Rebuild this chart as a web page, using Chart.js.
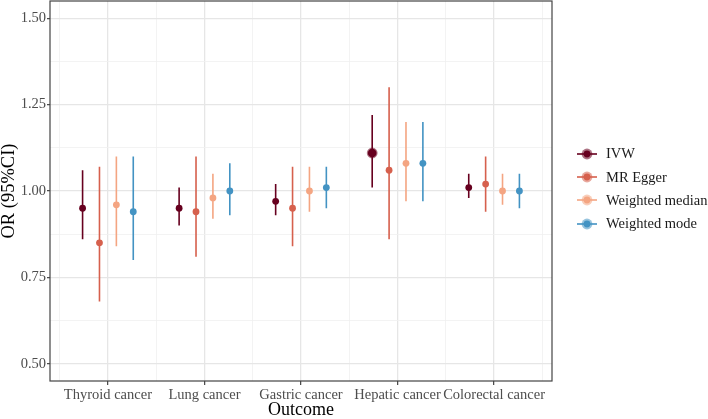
<!DOCTYPE html>
<html>
<head>
<meta charset="utf-8">
<script src="https://cdn.jsdelivr.net/npm/chart.js@4.4.1/dist/chart.umd.min.js"></script>
<style>
    html, body { margin: 0; padding: 0; background: #ffffff; }
    #wrap { position: relative; width: 708px; height: 419px; }
    #legend {
        position: absolute; left: 576px; top: 142px;
        font-family: "Liberation Serif", "Times New Roman", serif;
        font-size: 14.5px; color: #1a1a1a;
    }
    .item { display: flex; align-items: center; height: 23.4px; }
    .item canvas { width: 22px; height: 14px; margin-right: 8px; }
</style>
</head>
<body>
<div id="wrap">
    <canvas id="orChart" width="708" height="419"></canvas>
    <div id="legend"></div>
</div>
<script>
// Categorias e métodos
const categories = ['Thyroid cancer', 'Lung cancer', 'Gastric cancer', 'Hepatic cancer', 'Colorectal cancer'];
const methods = ['IVW', 'MR Egger', 'Weighted median', 'Weighted mode'];
const colors = ['#67001F', '#D6604D', '#F4A582', '#4393C3'];

// OR e IC 95% por método
const ivwOR = [0.95, 0.95, 0.97, 1.11, 1.01];
const ivwLow = [0.86, 0.90, 0.93, 1.01, 0.98];
const ivwHigh = [1.06, 1.01, 1.02, 1.22, 1.05];

const eggerOR = [0.85, 0.94, 0.95, 1.06, 1.02];
const eggerLow = [0.68, 0.81, 0.84, 0.86, 0.94];
const eggerHigh = [1.07, 1.10, 1.07, 1.30, 1.10];

const medianOR = [0.96, 0.98, 1.00, 1.08, 1.00];
const medianLow = [0.84, 0.92, 0.94, 0.97, 0.96];
const medianHigh = [1.10, 1.05, 1.07, 1.20, 1.05];

const modeOR = [0.94, 1.00, 1.01, 1.08, 1.00];
const modeLow = [0.80, 0.93, 0.95, 0.97, 0.95];
const modeHigh = [1.10, 1.08, 1.07, 1.20, 1.05];

// Ticks do eixo Y
const yMajorTicks = [0.50, 0.75, 1.00, 1.25, 1.50];
const yMinorTicks = [0.625, 0.875, 1.125, 1.375];

const seriesOR = [ivwOR, eggerOR, medianOR, modeOR];
const seriesLow = [ivwLow, eggerLow, medianLow, modeLow];
const seriesHigh = [ivwHigh, eggerHigh, medianHigh, modeHigh];

const dodge = [-0.2625, -0.0875, 0.0875, 0.2625];
const FONT = '"Liberation Serif", "Times New Roman", serif';

function isMinor(v) {
    return Math.abs(v * 4 - Math.round(v * 4)) > 1e-6;
}

// Montar datasets: linhas dos intervalos + pontos
const datasets = [];
methods.forEach((m, i) => {
    const segs = [];
    categories.forEach((c, j) => {
        const x = j + 1 + dodge[i];
        segs.push({ x: x, y: seriesLow[i][j] });
        segs.push({ x: x, y: seriesHigh[i][j] });
        segs.push({ x: x, y: null });
    });
    datasets.push({
        label: m + ' CI',
        data: segs,
        showLine: true,
        spanGaps: false,
        borderColor: colors[i],
        borderWidth: 1.6,
        pointRadius: 0,
        order: 2
    });
});
methods.forEach((m, i) => {
    const pts = categories.map((c, j) => ({ x: j + 1 + dodge[i], y: seriesOR[i][j] }));
    datasets.push({
        label: m,
        data: pts,
        backgroundColor: colors[i],
        // IVW de Hepatic cancer destacado com ponto maior
        pointRadius: ctx => (i === 0 && ctx.dataIndex === 3) ? 4.3 : 3.4,
        pointBorderWidth: ctx => (i === 0 && ctx.dataIndex === 3) ? 2.2 : 0,
        pointBorderColor: 'rgba(103, 0, 31, 0.55)',
        order: 1
    });
});

// Borda do painel
const panelBorder = {
    id: 'panelBorder',
    afterDatasetsDraw(chart) {
        const a = chart.chartArea;
        const ctx = chart.ctx;
        ctx.save();
        ctx.strokeStyle = '#444444';
        ctx.lineWidth = 1.2;
        ctx.strokeRect(a.left, a.top, a.right - a.left, a.bottom - a.top);
        ctx.restore();
    }
};

new Chart(document.getElementById('orChart'), {
    type: 'scatter',
    data: { datasets: datasets },
    plugins: [panelBorder],
    options: {
        responsive: false,
        animation: false,
        devicePixelRatio: 1,
        layout: { autoPadding: false, padding: { top: 1, right: 156, left: 0, bottom: 0 } },
        plugins: {
            legend: { display: false },
            tooltip: { enabled: false }
        },
        scales: {
            x: {
                type: 'linear',
                min: 0.4,
                max: 5.6,
                afterFit: s => {
                    s.height = 38;
                    s.paddingLeft = 0;
                    s.paddingRight = 0;
                },
                afterBuildTicks: s => {
                    s.ticks = [0.5, 1, 1.5, 2, 2.5, 3, 3.5, 4, 4.5, 5, 5.5].map(v => ({ value: v }));
                },
                border: { display: false },
                grid: {
                    color: ctx => Number.isInteger(ctx.tick.value) ? '#E6E6E6' : '#F0F0F0',
                    lineWidth: ctx => Number.isInteger(ctx.tick.value) ? 1.3 : 0.8,
                    tickColor: ctx => Number.isInteger(ctx.tick.value) ? '#444444' : 'rgba(0,0,0,0)',
                    tickLength: 4,
                    tickWidth: 1.2
                },
                ticks: {
                    autoSkip: false,
                    maxRotation: 0,
                    padding: 1,
                    color: '#4D4D4D',
                    font: { family: FONT, size: 14.5 },
                    callback: v => Number.isInteger(v) ? categories[v - 1] : ''
                },
                title: {
                    display: true,
                    text: 'Outcome',
                    color: '#000000',
                    font: { family: FONT, size: 18, lineHeight: 1 },
                    padding: { top: 0, bottom: 0 }
                }
            },
            y: {
                type: 'linear',
                min: 0.45,
                max: 1.55,
                afterFit: s => {
                    s.width = 50;
                    s.paddingTop = 0;
                    s.paddingBottom = 0;
                },
                afterBuildTicks: s => {
                    s.ticks = yMajorTicks.concat(yMinorTicks).sort((a, b) => a - b).map(v => ({ value: v }));
                },
                border: { display: false },
                grid: {
                    color: ctx => isMinor(ctx.tick.value) ? '#F0F0F0' : '#E6E6E6',
                    lineWidth: ctx => isMinor(ctx.tick.value) ? 0.8 : 1.3,
                    tickColor: ctx => isMinor(ctx.tick.value) ? 'rgba(0,0,0,0)' : '#444444',
                    tickLength: 3,
                    tickWidth: 1.2
                },
                ticks: {
                    padding: 1,
                    color: '#4D4D4D',
                    font: { family: FONT, size: 14.5 },
                    callback: v => isMinor(v) ? '' : v.toFixed(2)
                },
                title: {
                    display: true,
                    text: 'OR (95%CI)',
                    color: '#000000',
                    font: { family: FONT, size: 18.5, lineHeight: 1 },
                    padding: { top: 0, bottom: 0 }
                }
            }
        }
    }
});

// Legenda em HTML (chave linha + ponto)
const legendEl = document.getElementById('legend');
methods.forEach((m, i) => {
    const row = document.createElement('div');
    row.className = 'item';
    const key = document.createElement('canvas');
    key.width = 22; key.height = 14;
    const k = key.getContext('2d');
    k.strokeStyle = colors[i];
    k.lineWidth = 1.6;
    k.beginPath(); k.moveTo(1, 7); k.lineTo(21, 7); k.stroke();
    k.globalAlpha = 0.55;
    k.fillStyle = colors[i];
    k.beginPath(); k.arc(11, 7, 5.4, 0, Math.PI * 2); k.fill();
    k.globalAlpha = 1;
    k.beginPath(); k.arc(11, 7, 3.4, 0, Math.PI * 2); k.fill();
    const txt = document.createElement('span');
    txt.textContent = m;
    row.appendChild(key);
    row.appendChild(txt);
    legendEl.appendChild(row);
});
</script>
</body>
</html>
